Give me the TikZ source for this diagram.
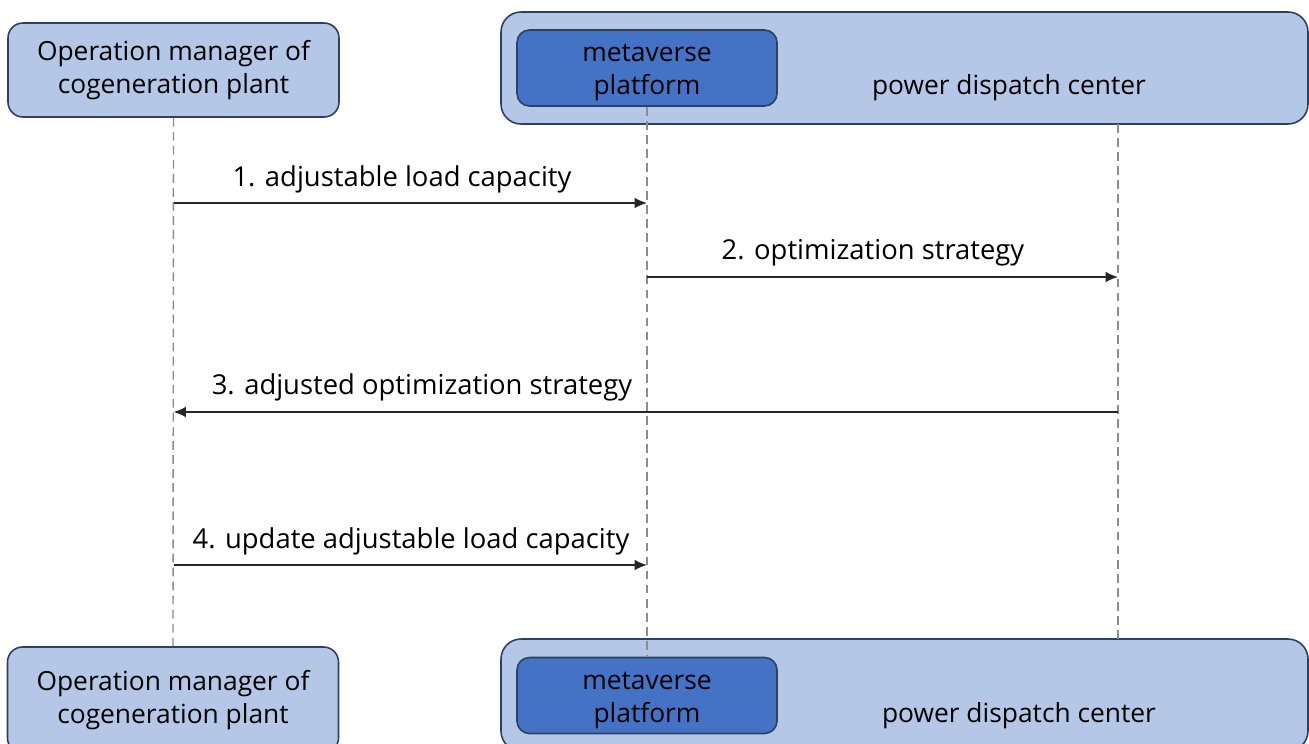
\documentclass[tikz,border=0pt]{standalone}
\usepackage{fontspec}
\setmainfont{Open Sans}
\usetikzlibrary{arrows.meta}
\definecolor{lightfill}{HTML}{B4C7E7}
\definecolor{darkfill}{HTML}{4472C4}
\definecolor{boxline}{HTML}{2F3F5F}
\definecolor{lifegray}{HTML}{8C8C8C}
\tikzset{
  actor/.style={draw=boxline, line width=0.9pt, fill=lightfill, rounded corners=0.3cm,
    minimum width=331*0.02cm, align=center, inner sep=0pt},
  group/.style={draw=boxline, line width=0.9pt, fill=lightfill, rounded corners=0.4cm,
    minimum width=807*0.02cm, minimum height=112*0.02cm, inner sep=0pt},
  plat/.style={draw=boxline, line width=0.9pt, fill=darkfill, rounded corners=0.25cm,
    minimum width=260*0.02cm, minimum height=76*0.02cm, inner sep=0pt},
  txt/.style={font=\fontsize{15}{18.8}\selectfont, text=black},
  ptxt/.style={txt, align=center, inner sep=0pt},
  lifeline/.style={draw=lifegray, dashed, dash pattern=on 5pt off 3pt, line width=0.8pt},
  msg/.style={draw=black!85, line width=0.9pt, -{Latex[length=7pt,width=6pt]}},
  lbl/.style={font=\fontsize{15.6}{19}\selectfont, anchor=base}
}
\begin{document}
\begin{tikzpicture}[x=0.02cm,y=-0.02cm]
\useasboundingbox (0,0) rectangle (1309,744);
% top row
\node[actor, txt, minimum height=94*0.02cm] (tl) at (173.5,70) {Operation manager of\\cogeneration plant};
\node[group] (tg) at (904.5,68) {};
\node[plat] (tm) at (647,68) {};
\node[ptxt] (tmt) at (647,72) {metaverse\\platform};
\node[txt] (tpc) at (1009,88) {power dispatch center};
% bottom row
\node[actor, txt, minimum height=106*0.02cm] (bl) at (173,700) {Operation manager of\\cogeneration plant};
\node[group] (bg) at (904.5,695) {};
\node[plat] (bm) at (647,695.5) {};
\node[ptxt] (bmt) at (647,700) {metaverse\\platform};
\node[txt] (bpc) at (1019,716) {power dispatch center};
% lifelines
\coordinate (ptop) at (1118,124);
\coordinate (pbot) at (1118,639);
\draw[lifeline] (tl.south) -- (bl.north);
\draw[lifeline] (tm.south) -- (bm.north);
\draw[lifeline] (ptop) -- (pbot);
% message points
\coordinate (l1) at (173.5,203); \coordinate (m1) at (647,203);
\coordinate (m2) at (647,277);   \coordinate (p2) at (1118,277);
\coordinate (p3) at (1118,412);  \coordinate (l3) at (173.5,412);
\coordinate (l4) at (173.5,565); \coordinate (m4) at (647,565);
\draw[msg] (l1) -- (m1);
\draw[msg] (m2) -- (p2);
\draw[msg] (p3) -- (l3);
\draw[msg] (l4) -- (m4);
\node[lbl] (t1) at (402,186) {1. adjustable load capacity};
\node[lbl] (t2) at (873,259) {2. optimization strategy};
\node[lbl] (t3) at (422,394) {3. adjusted optimization strategy};
\node[lbl] (t4) at (411,548) {4. update adjustable load capacity};
\end{tikzpicture}
\end{document}
